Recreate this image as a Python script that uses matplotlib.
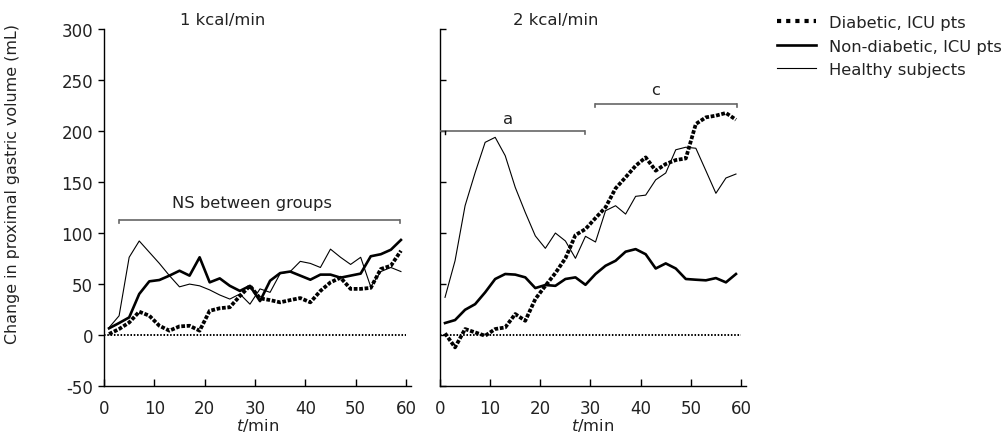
import numpy as np
import matplotlib
matplotlib.use("Agg")
import matplotlib.pyplot as plt
from matplotlib.lines import Line2D

plt.rcParams['font.family'] = ['DejaVu Sans']
plt.rcParams['mathtext.fontset'] = 'dejavusans'
plt.rcParams['axes.unicode_minus'] = False

# ---- data ----
time_min = list(range(1, 60, 2))

diabetic_1kcal = [0.7, 5.6, 12, 22.6, 18.7, 8.8, 4, 8.2, 8.8, 4, 23.5, 26, 27, 38, 48,
                  35.7, 34, 31.8, 34, 36, 31.8, 43, 51.4, 56, 45, 45, 46, 64.5, 67.7, 82.4]
nondiabetic_1kcal = [6.3, 11.5, 17, 40, 52.4, 53.7, 58, 62.8, 58, 76, 51.4, 55.3, 48, 43, 48,
                     33, 53, 60.5, 62, 58, 54, 59, 59, 56, 58, 60, 77, 79, 83.4, 93]
healthy_1kcal = [7, 18.6, 76, 92, 81, 70, 58, 47, 49.7, 48, 44, 39, 35, 40, 30,
                 45, 41.6, 60, 62, 72, 70, 66, 84, 76, 69, 76, 47, 62, 66, 62]

diabetic_2kcal = [1.4, -12.4, 5.6, 2.3, -1, 5.6, 7.2, 20.3, 13.7, 35, 48, 60.5, 75, 97.8, 103.7,
                  114.5, 125, 143.6, 154.5, 165.8, 174, 161, 167.5, 171.4, 173, 206.8, 213.3, 215, 217.6, 211]
nondiabetic_2kcal = [11.5, 14.4, 24.5, 30, 41.6, 54.7, 59.6, 59, 56.3, 45.8, 48.8, 48, 54.7, 56.3, 49,
                     59.6, 67.7, 72.6, 81.5, 84, 79, 65, 70, 65, 54.7, 54, 53.4, 55.6, 51.4, 59.6]
healthy_2kcal = [36.7, 72.6, 126.6, 159, 188.8, 193.7, 175.7, 144.6, 120, 97, 84.8, 99.8, 92, 75, 96.6,
                 91, 121.7, 126.6, 118.4, 135.8, 137, 152, 158.7, 181.5, 184, 183, 161, 138.8, 153.8, 157.7]

x_ticks = [0, 10, 20, 30, 40, 50, 60]
y_ticks = [-50, 0, 50, 100, 150, 200, 250, 300]
series_labels = ["Diabetic, ICU pts", "Non-diabetic, ICU pts", "Healthy subjects"]
panel_titles = ["1 kcal/min", "2 kcal/min"]

FS = 11.8
TFS = 12
TXT = '#222222'
BR = '#666666'

fig = plt.figure(figsize=(10.08, 4.39), dpi=100)
W, H = 1008, 439
ax1 = fig.add_axes([104 / W, 1 - 386.7 / H, 307 / W, (386.7 - 30) / H])
ax2 = fig.add_axes([440 / W, 1 - 386.7 / H, 306 / W, (386.7 - 30) / H])

diab_style = dict(color='black', lw=2.7, linestyle=(0, (1, 0.45)), solid_capstyle='butt',
                  dash_capstyle='butt')
nd_style = dict(color='black', lw=1.9)
hl_style = dict(color='black', lw=0.8)

for ax, d, nd, hl in [(ax1, diabetic_1kcal, nondiabetic_1kcal, healthy_1kcal),
                      (ax2, diabetic_2kcal, nondiabetic_2kcal, healthy_2kcal)]:
    ax.plot([0, 60], [0, 0], color='black', lw=1.4, linestyle=(0, (0.8, 0.9)), zorder=1)
    ax.plot(time_min, hl, **hl_style, zorder=2)
    ax.plot(time_min, nd, **nd_style, zorder=3)
    ax.plot(time_min, d, **diab_style, zorder=4)
    ax.set_xlim(0, 61)
    ax.set_ylim(-50, 300)
    ax.set_xticks(x_ticks)
    ax.set_yticks(y_ticks)
    for s in ['top', 'right']:
        ax.spines[s].set_visible(False)
    for s in ['left', 'bottom']:
        ax.spines[s].set_linewidth(1.0)
        ax.spines[s].set_color('black')
    ax.tick_params(axis='x', direction='in', length=5, width=1, pad=9.5,
                   labelsize=TFS, labelcolor=TXT)
    ax.set_xlabel(r'$t$/min', fontsize=FS, color=TXT, labelpad=-1)

ax1.tick_params(axis='y', direction='out', length=4, width=1, pad=4,
                labelsize=TFS, labelcolor=TXT)
ax2.tick_params(axis='y', direction='in', length=4, width=1, labelleft=False)
ax1.set_ylabel("Change in proximal gastric volume (mL)", fontsize=11.4, color=TXT)
ax1.yaxis.set_label_coords((20 - 104) / 307, (386.7 - 184) / 356.7)

# titles
ax1.text(0.388, 1.026, panel_titles[0], transform=ax1.transAxes, ha='center', va='center',
         fontsize=FS, color=TXT)
ax2.text(0.379, 1.026, panel_titles[1], transform=ax2.transAxes, ha='center', va='center',
         fontsize=FS, color=TXT)

# brackets
def bracket(ax, x0, x1, y, tick_left=True, tick_right=True, h=3):
    ax.plot([x0, x1], [y, y], color=BR, lw=1.2, solid_capstyle='butt', zorder=5)
    if tick_left:
        ax.plot([x0, x0], [y, y - h], color=BR, lw=1.2, zorder=5)
    if tick_right:
        ax.plot([x1, x1], [y, y - h], color=BR, lw=1.2, zorder=5)

bracket(ax1, 3, 58.8, 113)
ax1.text(29.4, 130, "NS between groups", ha='center', va='center', fontsize=FS, color=TXT)
bracket(ax2, 0, 28.9, 200, tick_left=False)
ax2.plot([1, 1], [200, 197], color='black', lw=1.0, zorder=6)
ax2.text(13.5, 212, "a", ha='center', va='center', fontsize=FS, color=TXT)
bracket(ax2, 30.8, 59.2, 226)
ax2.text(43, 241, "c", ha='center', va='center', fontsize=FS, color=TXT)

handles = [Line2D([], [], color='black', lw=3.0, linestyle=(0, (1, 1.2)), dash_capstyle='butt'),
           Line2D([], [], **nd_style),
           Line2D([], [], **hl_style)]
fig.legend(handles, series_labels, loc='upper left', bbox_to_anchor=(777 / W, 1 - 16 / H),
           frameon=False, fontsize=FS, handlelength=2.35, handletextpad=0.85,
           labelspacing=0.52, borderaxespad=0, borderpad=0, labelcolor=TXT)

fig.savefig("out.png", dpi=100)
